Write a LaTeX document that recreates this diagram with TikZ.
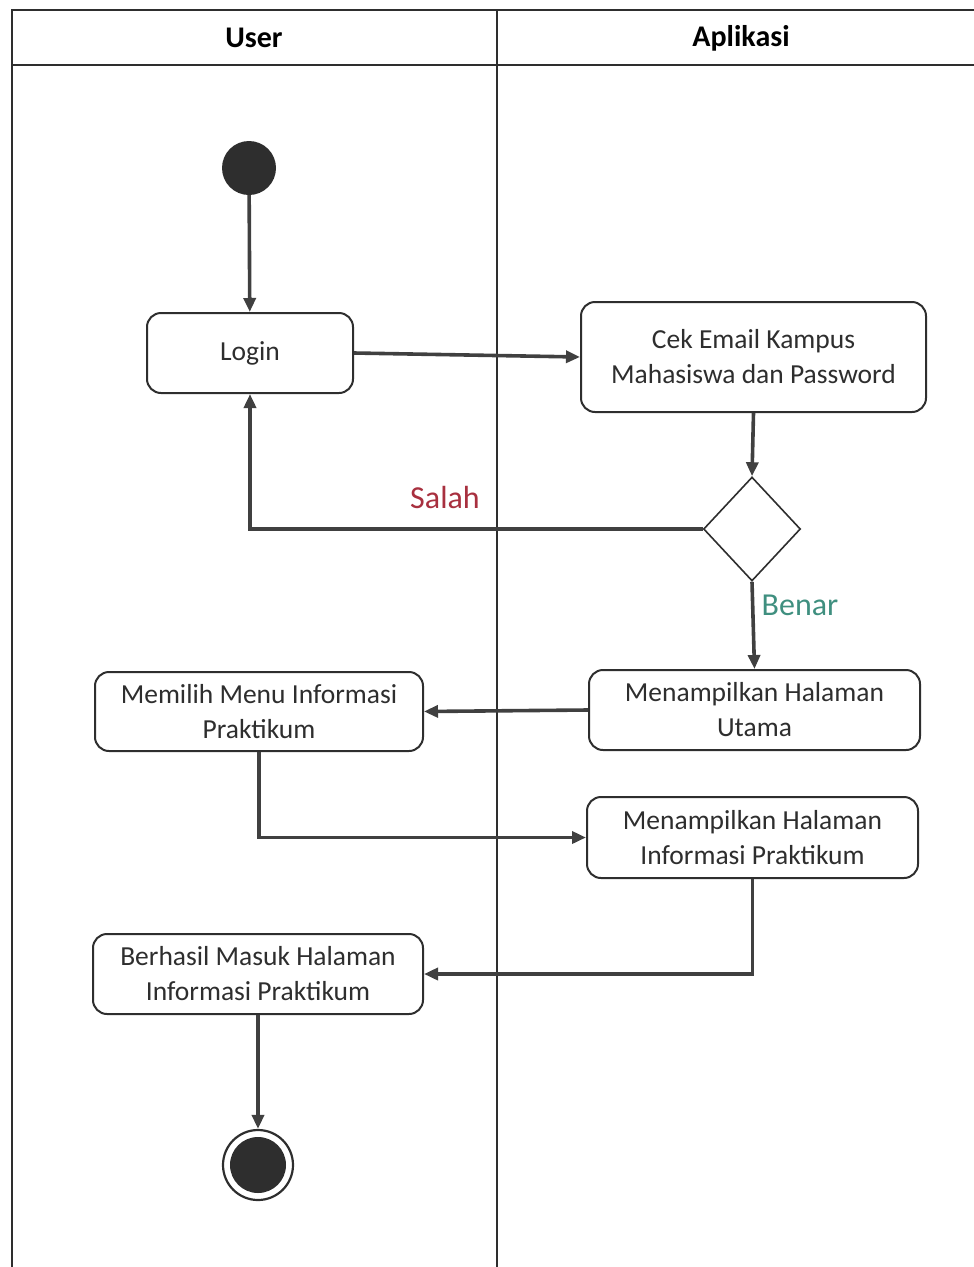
\documentclass[tikz,border=0pt]{standalone}
\usepackage{fontspec}
\setmainfont{Carlito}
\usetikzlibrary{shapes.geometric,arrows.meta}
\definecolor{ln}{HTML}{404040}
\definecolor{fr}{HTML}{2E2E2E}
\definecolor{salahc}{HTML}{A8303F}
\definecolor{benarc}{HTML}{3F8F7F}
\tikzset{
  act/.style={draw=fr, line width=2pt, rounded corners=14pt, fill=white, align=center,
    text=fr, font=\fontsize{27.5}{35}\selectfont, inner sep=2pt},
  conn/.style={draw=ln, line width=3.6pt, -{Triangle[length=14pt,width=12pt]}},
  frame/.style={draw=fr, line width=2.2pt},
  hdr/.style={font=\fontsize{30}{34}\selectfont\bfseries, text=black},
  lbl/.style={font=\fontsize{32}{36}\selectfont}
}
\begin{document}
\begin{tikzpicture}[x=1pt,y=-1pt]
\useasboundingbox (0,0) rectangle (974,1267);
% frame
\draw[frame] (974,10) -- (12,10) -- (12,1267);
\draw[frame] (12,65) -- (974,65);
\draw[frame] (497,10) -- (497,1267);
\node[hdr] (huser) at (254,38) {User};
\node[hdr] (happ) at (741,38) {Aplikasi};
% nodes
\node[circle, fill=fr, minimum size=54pt, inner sep=0pt] (start) at (249,168) {};
\node[act, minimum width=206pt, minimum height=80pt] (login) at (250,353) {Login};
\node[act, minimum width=345pt, minimum height=110pt] (cek) at (753.5,357) {Cek Email Kampus\\Mahasiswa dan Password};
\node[diamond, draw=fr, line width=1.6pt, fill=white, minimum width=97pt, minimum height=104pt, inner sep=0pt] (dia) at (752,529) {};
\node[act, minimum width=331pt, minimum height=80pt] (utama) at (754.5,710) {Menampilkan Halaman\\Utama};
\node[act, minimum width=328pt, minimum height=79pt] (memilih) at (259,711.5) {Memilih Menu Informasi\\Praktikum};
\node[act, minimum width=331pt, minimum height=81pt] (info) at (752.5,837.5) {Menampilkan Halaman\\Informasi Praktikum};
\node[act, minimum width=330pt, minimum height=80pt] (berhasil) at (258,974) {Berhasil Masuk Halaman\\Informasi Praktikum};
\node[circle, draw=fr, line width=2.2pt, minimum size=70pt, inner sep=0pt] (end) at (258,1165) {};
\node[circle, fill=fr, minimum size=56pt, inner sep=0pt] (endin) at (end.center) {};
% connectors
\draw[conn] (start) -- (login);
\draw[conn] (login.east) -- (cek.west);
\draw[conn] (cek.south) -- (dia.north);
\draw[conn] (dia.west) -| (login.south);
\node[lbl, text=salahc] (salah) at (445,497) {Salah};
\draw[conn] (dia.south) -- (utama.north);
\node[lbl, text=benarc] (benar) at (800,605) {Benar};
\draw[conn] (utama.west) -- (memilih.east);
\draw[conn] (memilih.south) |- (info.west);
\draw[conn] (info.south) |- (berhasil.east);
\draw[conn] (berhasil.south) -- (end.north);
\end{tikzpicture}
\end{document}
